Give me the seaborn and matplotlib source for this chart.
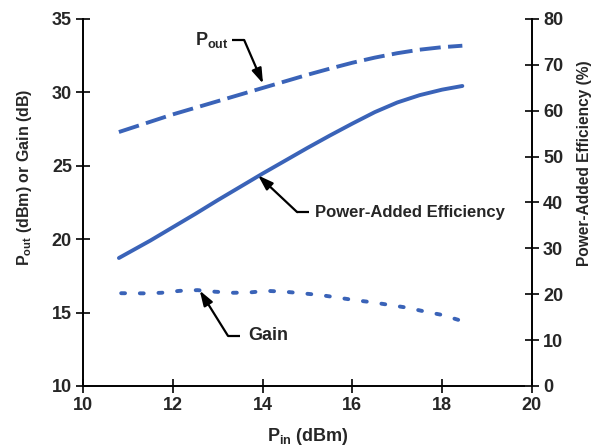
import matplotlib
matplotlib.use("Agg")
import matplotlib.pyplot as plt
import seaborn as sns
import pandas as pd
from matplotlib import font_manager

# ---- data ----
pin_pout = [10.8, 11.5, 12.0, 12.5, 13.0, 13.5, 14.0, 14.5, 15.0, 15.5, 16.0, 16.5, 17.0, 17.5, 18.0, 18.45]
pout = [27.3, 28.0, 28.5, 28.95, 29.4, 29.85, 30.3, 30.75, 31.2, 31.62, 32.02, 32.37, 32.67, 32.91, 33.08, 33.18]

pin_pae = [10.8, 11.5, 12.0, 12.5, 13.0, 13.5, 14.0, 14.5, 15.0, 15.5, 16.0, 16.5, 17.0, 17.5, 18.0, 18.45]
pae = [27.9, 31.7, 34.6, 37.5, 40.5, 43.4, 46.3, 49.1, 51.9, 54.6, 57.2, 59.7, 61.8, 63.4, 64.6, 65.4]

pin_gain = [10.85, 11.4, 11.75, 12.15, 12.55, 12.95, 13.35, 13.7, 14.1, 14.5, 14.9, 15.3, 15.7, 16.05, 16.45, 16.85, 17.25, 17.6, 18.0, 18.45]
gain = [16.32, 16.31, 16.35, 16.48, 16.53, 16.42, 16.35, 16.37, 16.48, 16.42, 16.31, 16.19, 16.01, 15.85, 15.7, 15.51, 15.32, 15.08, 14.84, 14.42]

x_ticks = [10, 12, 14, 16, 18, 20]
yl_ticks = [10, 15, 20, 25, 30, 35]
yr_ticks = [0, 10, 20, 30, 40, 50, 60, 70, 80]

color = "#3A63B8"

sns.set_style("ticks")
names = {f.name for f in font_manager.fontManager.ttflist}
fam = "Liberation Sans Narrow" if "Liberation Sans Narrow" in names else "Liberation Sans"
plt.rcParams["font.family"] = [fam, "DejaVu Sans"]
plt.rcParams["mathtext.fontset"] = "custom"
plt.rcParams["mathtext.rm"] = fam
plt.rcParams["mathtext.bf"] = fam + ":bold"

fig = plt.figure(figsize=(5.95, 4.47), dpi=100)
ax = fig.add_axes([0.1395, 0.1365, 0.7545, 0.821])
ax2 = ax.twinx()

df_pout = pd.DataFrame({"x": pin_pout, "y": pout})
df_gain = pd.DataFrame({"x": pin_gain, "y": gain})
df_pae = pd.DataFrame({"x": pin_pae, "y": pae})

LW = 2.8
sns.lineplot(data=df_pout, x="x", y="y", ax=ax, color=color, lw=LW)
ax.lines[-1].set_dashes([5.4, 1.9])
sns.lineplot(data=df_gain, x="x", y="y", ax=ax, color=color, lw=LW)
ax.lines[-1].set_dashes([1.0, 3.8])
ax.lines[-1].set_dash_capstyle("round")
sns.lineplot(data=df_pae, x="x", y="y", ax=ax2, color=color, lw=LW)
ax2.lines[-1].set_solid_capstyle("round")

ax.set_xlim(10, 20)
ax.set_ylim(10, 35)
ax2.set_ylim(0, 80)
ax.set_xticks(x_ticks)
ax.set_yticks(yl_ticks)
ax2.set_yticks(yr_ticks)

for a in (ax, ax2):
    a.spines["top"].set_visible(False)
    for s in a.spines.values():
        s.set_linewidth(1.4)
        s.set_color("black")
    a.tick_params(direction="inout", length=10, width=1.4, labelsize=13, pad=3)
    for lab in a.get_xticklabels() + a.get_yticklabels():
        lab.set_fontweight("bold")
ax.spines["right"].set_visible(False)
ax2.spines["left"].set_visible(False)
ax2.spines["bottom"].set_visible(False)

ax.set_xlabel(r"P$_{\mathbf{in}}$ (dBm)", fontsize=13, fontweight="bold", va="center")
ax.xaxis.set_label_coords(0.5, -0.139)
ax.set_ylabel(r"P$_{\mathbf{out}}$ (dBm) or Gain (dB)", fontsize=11.5, fontweight="bold", va="center")
ax.yaxis.set_label_coords(-0.1314, 0.5695)
ax2.set_ylabel("Power-Added Efficiency (%)", fontsize=11.2, fontweight="bold", va="center", rotation=90)
ax2.yaxis.set_label_coords(1.117, 0.6076)

aprops = dict(arrowstyle="-|>,head_length=0.9,head_width=0.3", color="black", lw=1.6, shrinkA=0, shrinkB=0)
lkw = dict(color="black", lw=1.6, solid_capstyle="butt")

# Pout annotation
ax.plot([13.32, 13.59], [33.57, 33.57], **lkw)
ax.annotate("", xy=(14.01, 30.6), xytext=(13.59, 33.57), arrowprops=aprops)
ax.text(13.24, 33.57, r"P$_{\mathbf{out}}$", ha="right", va="center", fontsize=13, fontweight="bold")

# PAE annotation (right axis coords)
ax2.plot([14.77, 15.03], [37.9, 37.9], **lkw)
ax2.annotate("", xy=(13.9, 45.9), xytext=(14.77, 37.9), arrowprops=aprops)
ax2.text(15.17, 37.9, "Power-Added Efficiency", ha="left", va="center", fontsize=12, fontweight="bold")

# Gain annotation
ax.plot([13.23, 13.50], [13.41, 13.41], **lkw)
ax.annotate("", xy=(12.6, 16.5), xytext=(13.23, 13.41), arrowprops=aprops)
ax.text(13.67, 13.41, "Gain", ha="left", va="center", fontsize=13, fontweight="bold")

fig.savefig("out.png", dpi=100)
